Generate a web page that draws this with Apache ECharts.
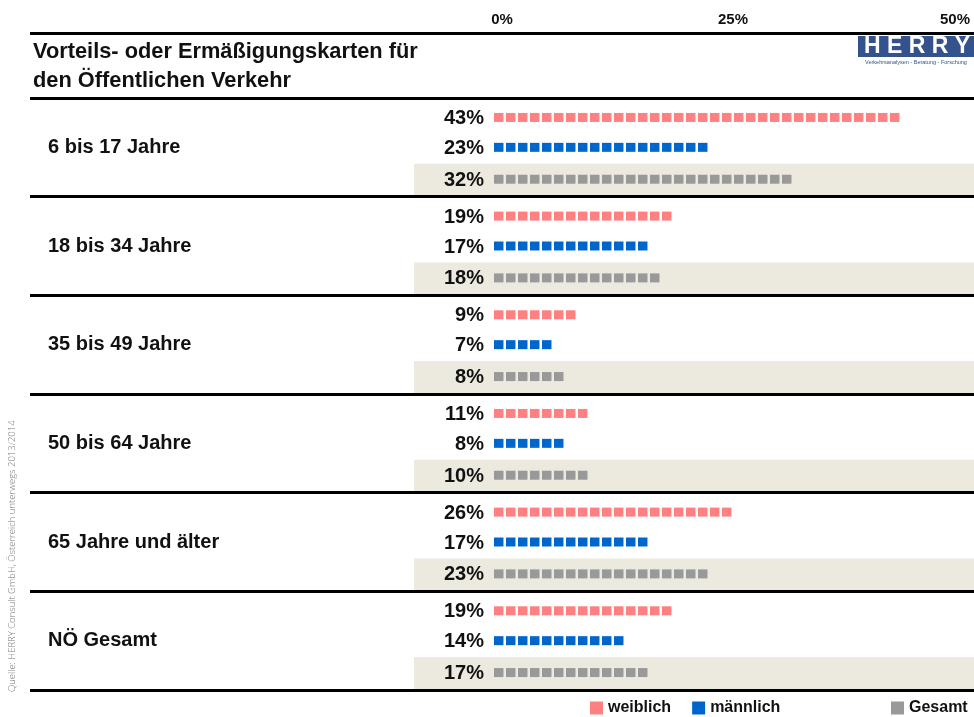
<!DOCTYPE html>
<html>
<head>
<meta charset="utf-8">
<title>Vorteils- oder Ermäßigungskarten</title>
<script src="https://cdn.jsdelivr.net/npm/echarts@6/dist/echarts.min.js"></script>
<style>
  html, body { margin: 0; padding: 0; background: #fff; }
  #chart { width: 974px; height: 717px; }
</style>
</head>
<body>
<div id="chart"></div>
<script>
// data
var groups = ['6 bis 17 Jahre', '18 bis 34 Jahre', '35 bis 49 Jahre', '50 bis 64 Jahre', '65 Jahre und älter', 'NÖ Gesamt'];
var weiblich = [43, 19, 9, 11, 26, 19];
var maennlich = [23, 17, 7, 8, 17, 14];
var gesamt = [32, 18, 8, 10, 23, 17];
var tickValues = [0, 25, 50];
var seriesNames = ['weiblich', 'männlich', 'Gesamt'];

var FONT = 'Liberation Sans, Arial, Helvetica, sans-serif';
var BG_LEFT = 414;
var SQ_W = 9.5;  // square width
var SQ_H = 9;    // square height
var PITCH = 12;  // square + gap

// one hidden row per bar, three rows per age group
var rows = [];
groups.forEach(function (g) {
  seriesNames.forEach(function (s) { rows.push(g + ' ' + s); });
});
function rowData(values, k) {
  return values.map(function (v, i) { return [v, i * 3 + k]; });
}
var bgRows = groups.map(function (g, i) { return [0, i * 3 + 2]; });

// bar drawn as a row of small squares, whole squares only
function squareBar(color, dy) {
  return function (params, api) {
    var v = api.value(0);
    var p0 = api.coord([0, api.value(1)]);
    var p1 = api.coord([v, api.value(1)]);
    var len = p1[0] - p0[0];
    var n = Math.floor((len + PITCH - SQ_W) / PITCH);
    var y = p0[1] + dy;
    var children = [];
    for (var i = 0; i < n; i++) {
      children.push({
        type: 'rect',
        shape: { x: p0[0] + i * PITCH, y: y - SQ_H / 2, width: SQ_W, height: SQ_H },
        style: { fill: color }
      });
    }
    children.push({
      type: 'text',
      x: p0[0] - 10,
      y: y + 1,
      style: {
        text: v + '%',
        font: 'bold 20px ' + FONT,
        fill: '#111',
        textAlign: 'right',
        textVerticalAlign: 'middle'
      }
    });
    return { type: 'group', children: children };
  };
}

function barSeries(name, values, k, color, dy) {
  return {
    name: name,
    type: 'custom',
    xAxisIndex: 0,
    yAxisIndex: 1,
    data: rowData(values, k),
    itemStyle: { color: color },
    renderItem: squareBar(color, dy),
    z: 3
  };
}

var chart = echarts.init(document.getElementById('chart'));

var option = {
  animation: false,
  backgroundColor: '#fff',
  textStyle: { fontFamily: FONT },
  title: {
    text: 'Vorteils- oder Ermäßigungskarten für\nden Öffentlichen Verkehr',
    left: 28,
    top: 32,
    textStyle: { fontFamily: FONT, fontSize: 21.8, fontWeight: 'bold', color: '#111', lineHeight: 29 }
  },
  legend: [{
    data: ['weiblich', 'männlich'],
    left: 585,
    top: 695,
    icon: 'rect',
    itemWidth: 13,
    itemHeight: 13,
    itemGap: 21,
    textStyle: { fontFamily: FONT, fontSize: 16, fontWeight: 'bold', color: '#111' }
  }, {
    data: ['Gesamt'],
    left: 886,
    top: 695,
    icon: 'rect',
    itemWidth: 13,
    itemHeight: 13,
    textStyle: { fontFamily: FONT, fontSize: 16, fontWeight: 'bold', color: '#111' }
  }],
  grid: { left: 30, right: 0, top: 98, bottom: 27, containLabel: false },
  xAxis: {
    type: 'value',
    position: 'top',
    min: -49.15,
    max: 50.85,
    axisLine: { show: false },
    axisTick: { show: false },
    splitLine: { show: false },
    axisLabel: {
      customValues: tickValues,
      margin: 71,
      formatter: function (v) {
        var key = v === 0 ? 'a' : (v === 25 ? 'b' : 'c');
        return '{' + key + '|' + v + '%}';
      },
      rich: {
        a: { fontFamily: FONT, fontSize: 15, fontWeight: 'bold', color: '#111', padding: [0, 0, 0, 16] },
        b: { fontFamily: FONT, fontSize: 15, fontWeight: 'bold', color: '#111', padding: [0, 0, 0, 6] },
        c: { fontFamily: FONT, fontSize: 15, fontWeight: 'bold', color: '#111', padding: [0, 22, 0, 0] }
      }
    }
  },
  yAxis: [{
    type: 'category',
    data: groups,
    inverse: true,
    position: 'left',
    axisLine: { show: false },
    axisTick: { show: false },
    splitLine: { show: true, lineStyle: { color: '#000', width: 3 } },
    axisLabel: {
      inside: true,
      margin: 18,
      fontFamily: FONT,
      fontSize: 20,
      fontWeight: 'bold',
      color: '#111'
    }
  }, {
    type: 'category',
    data: rows,
    inverse: true,
    position: 'left',
    show: false
  }],
  graphic: [
    {
      type: 'line',
      shape: { x1: 30, y1: 33.5, x2: 974, y2: 33.5 },
      style: { stroke: '#000', lineWidth: 3 }
    },
    {
      type: 'text',
      x: 12,
      y: 692,
      rotation: Math.PI / 2,
      style: {
        text: 'Quelle: HERRY Consult GmbH, Österreich unterwegs 2013/2014',
        font: '300 9.5px "Open Sans", sans-serif',
        fill: '#7a7a7a',
        textAlign: 'left',
        textVerticalAlign: 'middle'
      }
    },
    {
      type: 'rect',
      shape: { x: 858, y: 36, width: 116, height: 21 },
      style: { fill: '#34528c' }
    },
    {
      type: 'text',
      x: 917,
      y: 47,
      style: {
        text: 'H E R R Y',
        font: 'bold 23px ' + FONT,
        fill: '#fff',
        textAlign: 'center',
        textVerticalAlign: 'middle'
      }
    },
    {
      type: 'text',
      x: 916,
      y: 62,
      style: {
        text: 'Verkehrsanalysen - Beratung - Forschung',
        font: '5.5px ' + FONT,
        fill: '#34528c',
        textAlign: 'center',
        textVerticalAlign: 'middle'
      }
    }
  ],
  series: [
    {
      name: 'Hintergrund',
      type: 'custom',
      xAxisIndex: 0,
      yAxisIndex: 1,
      data: bgRows,
      silent: true,
      z: -1,
      renderItem: function (params, api) {
        var c = api.coord([0, api.value(1)]);
        var h = api.size([0, 1])[1];
        var right = params.coordSys.x + params.coordSys.width;
        return {
          type: 'rect',
          shape: { x: BG_LEFT, y: c[1] - h / 2, width: right - BG_LEFT, height: h },
          style: { fill: '#ece9df' }
        };
      }
    },
    barSeries('weiblich', weiblich, 0, '#ff8080', 3),
    barSeries('männlich', maennlich, 1, '#0066cc', 0),
    barSeries('Gesamt', gesamt, 2, '#999999', -1)
  ]
};

chart.setOption(option);
</script>
</body>
</html>
